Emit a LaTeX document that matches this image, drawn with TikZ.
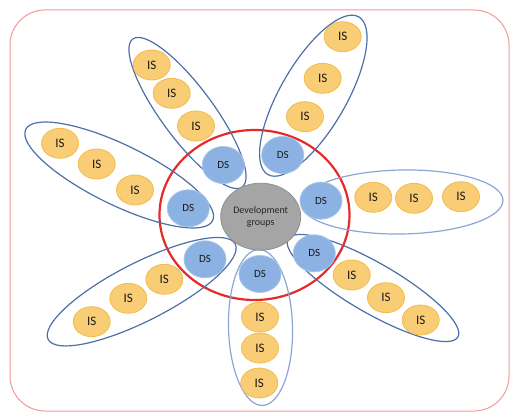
\documentclass[tikz,border=0pt]{standalone}
\usepackage{fontspec}
\setmainfont{Carlito}
\usetikzlibrary{shapes.geometric}
\definecolor{isfill}{HTML}{F8CD75}
\definecolor{isdraw}{HTML}{F3BC4A}
\definecolor{dsfill}{HTML}{8BB2E2}
\definecolor{dsdraw}{HTML}{A9C5EA}
\definecolor{petal}{HTML}{4C6FA8}
\definecolor{petallight}{HTML}{8AA5D6}
\definecolor{ringred}{HTML}{E52A2A}
\definecolor{framered}{HTML}{F09A9A}
\definecolor{greyfill}{HTML}{A5A5A5}
\definecolor{greydraw}{HTML}{8E8E8E}
\begin{document}
\begin{tikzpicture}[x=1pt,y=1pt,
  isnode/.style={ellipse, fill=isfill, draw=isdraw, line width=0.8pt,
    minimum width=37pt, minimum height=30pt, inner sep=0pt,
    font=\fontsize{13}{13}\selectfont, text=black!90},
  dsnode/.style={ellipse, fill=dsfill, draw=dsdraw, line width=0.8pt,
    minimum width=42pt, minimum height=37pt, inner sep=0pt,
    font=\fontsize{11}{11}\selectfont, text=black!90},
  petalline/.style={draw=petal, line width=1.2pt},
  petallightline/.style={draw=petallight, line width=1.2pt},
  ringline/.style={draw=ringred, line width=2.2pt},
  frameline/.style={draw=framered, line width=1pt, rounded corners=35pt}]
\useasboundingbox (0,0) rectangle (512,413);
% outer frame
\draw[frameline] (10,2) rectangle (509,403);
% red ring
\draw[ringline] (254.5,198) ellipse [x radius=95, y radius=85];
% petals
\draw[petalline, rotate around={-53.5:(187.5,300)}] (187.5,300) ellipse [x radius=92, y radius=26];
\draw[petalline, rotate around={60:(313.3,317.3)}] (313.3,317.3) ellipse [x radius=91, y radius=33];
\draw[petalline, rotate around={-26:(119.2,238)}] (119.2,238) ellipse [x radius=104, y radius=30];
\draw[petallightline, rotate around={1:(402,211)}] (402,211) ellipse [x radius=101, y radius=32];
\draw[petalline, rotate around={-30:(373,125)}] (373,125) ellipse [x radius=98, y radius=25];
\draw[petallightline, rotate around={91.4:(260.5,85.5)}] (260.5,85.5) ellipse [x radius=78, y radius=32];
\draw[petalline, rotate around={27:(141.7,121.3)}] (141.7,121.3) ellipse [x radius=105, y radius=29];
% centre
\node[ellipse, fill=greyfill, draw=greydraw, line width=0.8pt, minimum width=80pt,
  minimum height=67pt, inner sep=0pt, align=center,
  font=\fontsize{10}{12.5}\selectfont, text=black!85] (dev) at (260.7,196.3) {Development\\groups};
% DS nodes
\node[dsnode] (ds1) at (223.3,248) {DS};
\node[dsnode] (ds2) at (282.7,258) {DS};
\node[dsnode] (ds3) at (188.3,204.7) {DS};
\node[dsnode] (ds4) at (321,212.3) {DS};
\node[dsnode] (ds5) at (314.3,159.7) {DS};
\node[dsnode] (ds6) at (260,139) {DS};
\node[dsnode] (ds7) at (205,153.7) {DS};
% IS nodes
\node[isnode] (is11) at (151.7,348) {IS};
\node[isnode] (is12) at (171.7,319.7) {IS};
\node[isnode] (is13) at (196,287) {IS};
\node[isnode] (is21) at (342.7,376.3) {IS};
\node[isnode] (is22) at (322.7,334.7) {IS};
\node[isnode] (is23) at (305,296.3) {IS};
\node[isnode] (is31) at (60,269.7) {IS};
\node[isnode] (is32) at (96.7,249) {IS};
\node[isnode] (is33) at (135,223) {IS};
\node[isnode] (is41) at (373.3,215.7) {IS};
\node[isnode] (is42) at (414,214.7) {IS};
\node[isnode] (is43) at (461,216.3) {IS};
\node[isnode] (is51) at (351.7,138) {IS};
\node[isnode] (is52) at (386,115.3) {IS};
\node[isnode] (is53) at (420.7,93) {IS};
\node[isnode] (is61) at (260,96) {IS};
\node[isnode] (is62) at (260,65) {IS};
\node[isnode] (is63) at (259.3,30) {IS};
\node[isnode] (is71) at (164.3,133.7) {IS};
\node[isnode] (is72) at (128.3,114.7) {IS};
\node[isnode] (is73) at (91.7,91.3) {IS};
\end{tikzpicture}
\end{document}
